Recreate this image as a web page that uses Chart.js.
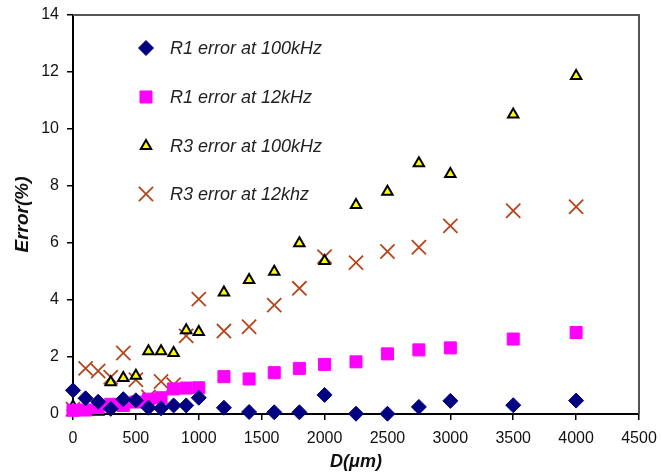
<!DOCTYPE html>
<html>
<head>
<meta charset="utf-8">
<script src="https://cdn.jsdelivr.net/npm/chart.js@4.4.0/dist/chart.umd.min.js"></script>
<style>
  html, body { margin: 0; padding: 0; background: #fff; }
  #wrap { width: 662px; height: 473px; }
</style>
</head>
<body>
<div id="wrap"><canvas id="chart"></canvas></div>
<script>
// 距離 D (μm)
const dValues = [0, 100, 200, 300, 400, 500, 600, 700, 800, 900, 1000, 1200, 1400, 1600, 1800, 2000, 2250, 2500, 2750, 3000, 3500, 4000];

// 誤差 (%)
const r1At100k = [0.83, 0.55, 0.43, 0.18, 0.52, 0.48, 0.22, 0.2, 0.3, 0.3, 0.57, 0.22, 0.07, 0.06, 0.06, 0.67, 0.01, 0.01, 0.25, 0.46, 0.31, 0.47];
const r1At12k = [0.13, 0.14, 0.23, 0.34, 0.3, 0.42, 0.52, 0.57, 0.88, 0.91, 0.92, 1.31, 1.23, 1.45, 1.6, 1.74, 1.83, 2.11, 2.25, 2.32, 2.63, 2.86];
const r3At100k = [0.26, 0.17, 0.08, 1.11, 1.26, 1.34, 2.2, 2.2, 2.14, 2.94, 2.88, 4.26, 4.7, 4.99, 5.99, 5.37, 7.33, 7.8, 8.8, 8.42, 10.51, 11.86];
const r3At12k = [0.17, 1.6, 1.51, 1.29, 2.14, 1.2, 0.6, 1.14, 1.03, 2.74, 4.03, 2.91, 3.06, 3.82, 4.41, 5.52, 5.31, 5.7, 5.85, 6.6, 7.13, 7.27];

const seriesLabels = ["R1 error at 100kHz", "R1 error at 12kHz", "R3 error at 100kHz", "R3 error at 12khz"];
const xTicks = [0, 500, 1000, 1500, 2000, 2500, 3000, 3500, 4000, 4500];
const yTicks = [0, 2, 4, 6, 8, 10, 12, 14];

function toPoints(values) {
  return dValues.map((d, i) => ({ x: d, y: values[i] }));
}

// 枠線（上と右）
const boxPlugin = {
  id: "box",
  afterDraw(chart) {
    const { ctx, chartArea: a } = chart;
    ctx.save();
    ctx.strokeStyle = "#555";
    ctx.lineWidth = 2;
    ctx.beginPath();
    ctx.moveTo(a.left, a.top);
    ctx.lineTo(a.right, a.top);
    ctx.lineTo(a.right, a.bottom);
    ctx.stroke();
    ctx.restore();
  },
};

// 凡例をプロット内の左上に描く
const legendPlugin = {
  id: "innerLegend",
  afterDraw(chart) {
    const ctx = chart.ctx;
    const rows = [48, 97, 146, 194];
    ctx.save();
    chart.data.datasets.forEach((ds, i) => {
      const y = rows[i];
      ctx.fillStyle = ds.pointBackgroundColor;
      ctx.strokeStyle = ds.pointBorderColor;
      ctx.lineWidth = ds.pointBorderWidth;
      Chart.helpers.drawPoint(ctx, {
        pointStyle: ds.pointStyle,
        radius: ds.pointRadius,
        borderWidth: ds.pointBorderWidth,
        rotation: 0,
      }, 146, y);
      ctx.font = "italic 18px 'Liberation Sans', Arial, sans-serif";
      ctx.fillStyle = "#222";
      ctx.textBaseline = "middle";
      ctx.textAlign = "left";
      ctx.fillText(ds.label, 170, y + 1);
    });
    ctx.restore();
  },
};

const ctx = document.getElementById("chart").getContext("2d");
Chart.defaults.font.family = "'Liberation Sans', Arial, sans-serif";
Chart.defaults.color = "#111";

new Chart(ctx, {
  type: "scatter",
  data: {
    datasets: [
      {
        label: seriesLabels[0],
        data: toPoints(r1At100k),
        pointStyle: "rectRot",
        pointRadius: 7.5,
        pointBackgroundColor: "#000080",
        pointBorderColor: "#000080",
        pointBorderWidth: 1,
        clip: false,
      },
      {
        label: seriesLabels[1],
        data: toPoints(r1At12k),
        pointStyle: "rect",
        pointRadius: 8.5,
        pointBackgroundColor: "#ff00ff",
        pointBorderColor: "#ff00ff",
        pointBorderWidth: 1,
        clip: false,
      },
      {
        label: seriesLabels[2],
        data: toPoints(r3At100k),
        pointStyle: "triangle",
        pointRadius: 6,
        pointBackgroundColor: "#ffff00",
        pointBorderColor: "#000",
        pointBorderWidth: 2,
        clip: false,
      },
      {
        label: seriesLabels[3],
        data: toPoints(r3At12k),
        pointStyle: "crossRot",
        pointRadius: 10,
        pointBackgroundColor: "#b5451b",
        pointBorderColor: "#b5451b",
        pointBorderWidth: 1.8,
        clip: false,
      },
    ],
  },
  options: {
    responsive: true,
    maintainAspectRatio: false,
    animation: false,
    layout: { padding: { top: 15, right: 23, left: 0, bottom: 0 } },
    scales: {
      x: {
        type: "linear",
        min: 0,
        max: 4500,
        afterBuildTicks: (scale) => {
          scale.ticks = xTicks.map((v) => ({ value: v }));
        },
        afterFit: (scale) => {
          scale.height = 59;
          scale.paddingLeft = 0;
          scale.paddingRight = 0;
        },
        grid: { drawOnChartArea: false, drawTicks: true, tickLength: 6, color: "#000", lineWidth: 1.5 },
        border: { color: "#000", width: 2 },
        ticks: {
          font: { size: 16 },
          color: "#111",
          padding: 9,
          maxRotation: 0,
          callback: (v) => String(v),
        },
        title: {
          display: true,
          text: "D(μm)",
          font: { size: 18, weight: "bold", style: "italic" },
          color: "#111",
          padding: { top: 2, bottom: 0 },
        },
      },
      y: {
        type: "linear",
        min: 0,
        max: 14,
        afterBuildTicks: (scale) => {
          scale.ticks = yTicks.map((v) => ({ value: v }));
        },
        afterFit: (scale) => {
          scale.width = 73;
          scale.paddingTop = 0;
          scale.paddingBottom = 0;
        },
        grid: { drawOnChartArea: false, drawTicks: true, tickLength: 6, color: "#000", lineWidth: 1.5 },
        border: { color: "#000", width: 2 },
        ticks: { font: { size: 16 }, color: "#111", padding: 8, callback: (v) => String(v) },
        title: {
          display: true,
          text: "Error(%)",
          font: { size: 19, weight: "bold", style: "italic" },
          color: "#111",
          padding: { top: 11, bottom: 0 },
        },
      },
    },
    plugins: {
      legend: { display: false },
      tooltip: { enabled: false },
    },
  },
  plugins: [boxPlugin, legendPlugin],
});
</script>
</body>
</html>
